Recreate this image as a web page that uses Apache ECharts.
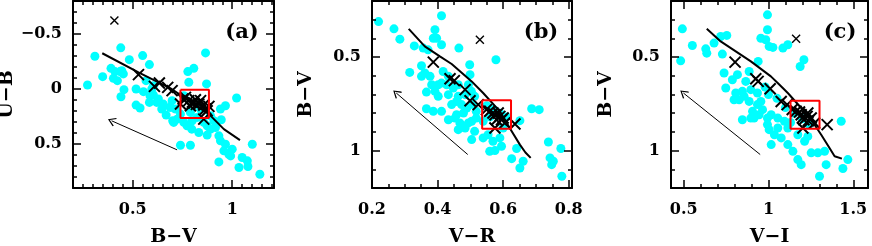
<!DOCTYPE html>
<html><head><meta charset="utf-8">
<script src="https://cdn.jsdelivr.net/npm/echarts@6/dist/echarts.min.js"></script>
<style>html,body{margin:0;padding:0;background:#fff}#c{width:872px;height:246px}</style>
</head><body><div id="c"></div>
<script>
// ---------- Panel (a): U-B vs B-V ----------
const cyanA = [[0.31,-0.298],[0.273,-0.036],[0.349,-0.112],[0.391,-0.188],[0.411,-0.158],[0.436,-0.158],[0.403,-0.097],[0.423,-0.076],[0.453,-0.137],[0.445,-0.167],[0.44,-0.374],[0.483,-0.267],[0.55,-0.304],[0.584,-0.222],[0.567,-0.076],[0.517,0.0],[0.554,0.024],[0.456,0.006],[0.441,0.07],[0.517,0.146],[0.537,0.173],[0.584,0.122],[0.604,0.055],[0.629,0.091],[0.646,0.182],[0.668,0.237],[0.688,0.167],[0.701,0.289],[0.596,0.0],[0.604,-0.03],[0.621,0.122],[0.654,0.137],[0.587,0.061],
[0.866,-0.328],[0.777,-0.158],[0.807,-0.188],[0.782,-0.061],[0.871,-0.046],[1.022,0.082],[0.941,0.182],[0.966,0.152],[0.945,0.28],[0.715,0.182],[0.723,0.274],[0.706,0.304],[0.773,0.334],[0.797,0.365],[0.832,0.395],[0.874,0.419],[0.891,0.365],[0.916,0.35],[0.933,0.426],[0.941,0.471],[0.966,0.502],[0.958,0.562],[0.983,0.593],[0.992,0.608],[0.74,0.511],[0.79,0.511],[1.101,0.502],[0.933,0.663],[1.05,0.623],[1.076,0.653],[1.034,0.714],[1.079,0.705],[1.139,0.775],[1.0,0.547],[0.698,0.106],[0.69,0.167],[0.757,0.061],[0.79,0.213],[0.824,0.258],[0.857,0.304],[0.891,0.243],[0.908,0.289],[0.841,0.182],[0.757,0.304],[0.74,0.228],[0.799,0.289],[0.874,0.334]];
const crossA = [[0.529,-0.131],[0.609,-0.024],[0.634,-0.055],[0.676,-0.015],[0.698,0.015],[0.753,0.091],[0.782,0.106],[0.807,0.128],[0.832,0.137],[0.857,0.146],[0.866,0.182],[0.857,0.274],[0.874,0.198],[0.74,0.137],[0.79,0.152],[0.765,0.076],[0.815,0.097],[0.841,0.106],[0.883,0.158],[0.8,0.12],[0.82,0.14]];
const loneA = [[0.408,-0.623]];
const curveA = [[0.347,-0.325],[0.529,-0.152],[0.69,-0.006],[0.883,0.228],[0.958,0.365],[1.039,0.465]];
const boxAx = [0.74,0.883], boxAy = [0.006,0.264];
const arrowA = [[0.723,0.553],[0.394,0.289]];

// ---------- Panel (b): B-V vs V-R ----------
const cyanB = [[0.22,0.31],[0.267,0.349],[0.285,0.404],[0.412,0.279],[0.392,0.354],[0.387,0.399],[0.397,0.399],[0.412,0.434],[0.329,0.44],[0.356,0.452],[0.371,0.461],[0.465,0.452],[0.351,0.546],[0.315,0.582],[0.361,0.585],[0.377,0.603],[0.351,0.603],[0.412,0.639],[0.428,0.648],[0.448,0.665],[0.463,0.648],[0.366,0.687],[0.392,0.683],[0.402,0.71],[0.433,0.701],[0.463,0.71],[0.484,0.701],[0.366,0.776],[0.387,0.79],[0.412,0.79],[0.433,0.835],[0.453,0.826],[0.468,0.852],[0.479,0.799],[0.494,0.852],[0.504,0.843],[0.463,0.888],[0.484,0.879],[0.504,0.941],[0.443,0.754],[0.458,0.737],[0.473,0.754],[0.489,0.772],[0.417,0.577],[0.433,0.603],[0.382,0.648],[0.402,0.648],[0.494,0.648],[0.499,0.594],[0.458,0.808],
[0.578,0.514],[0.498,0.541],[0.503,0.683],[0.513,0.71],[0.508,0.754],[0.518,0.79],[0.518,0.826],[0.539,0.843],[0.513,0.897],[0.539,0.932],[0.554,0.915],[0.569,0.95],[0.59,0.932],[0.6,0.879],[0.595,0.977],[0.559,1.004],[0.575,1.0],[0.641,0.989],[0.651,0.84],[0.626,1.043],[0.661,1.057],[0.651,1.093],[0.687,0.776],[0.71,0.781],[0.738,0.954],[0.776,0.989],[0.743,1.039],[0.753,1.057],[0.748,1.075],[0.779,1.137],[0.55,0.76],[0.57,0.78],[0.59,0.8],[0.61,0.82],[0.56,0.82]];
const crossB = [[0.387,0.527],[0.438,0.616],[0.451,0.626],[0.484,0.674],[0.499,0.733],[0.524,0.754],[0.559,0.79],[0.575,0.808],[0.59,0.817],[0.6,0.826],[0.58,0.835],[0.569,0.799],[0.585,0.799],[0.575,0.879],[0.605,0.852],[0.636,0.858],[0.549,0.781],[0.595,0.835]];
const loneB = [[0.529,0.407]];
const curveB = [[0.312,0.349],[0.361,0.443],[0.407,0.496],[0.443,0.537],[0.504,0.63],[0.539,0.692],[0.59,0.79],[0.62,0.879],[0.651,0.968],[0.668,1.01],[0.684,1.039]];
const boxBx = [0.536,0.624], boxBy = [0.731,0.883];
const arrowB = [[0.492,1.021],[0.274,0.692]];

// ---------- Panel (c): B-V vs V-I ----------
const cyanC = [[0.492,0.349],[0.482,0.52],[0.551,0.438],[0.63,0.456],[0.636,0.479],[0.679,0.425],[0.718,0.39],[0.754,0.384],[0.728,0.484],[0.738,0.585],[0.787,0.621],[0.748,0.665],[0.817,0.594],[0.866,0.63],[0.886,0.577],[0.939,0.523],[0.797,0.728],[0.827,0.728],[0.886,0.737],[0.906,0.79],[0.915,0.826],[0.965,0.781],[0.994,0.826],[0.846,0.835],[0.807,0.692],[0.846,0.683],[0.896,0.674],[0.935,0.692],[0.955,0.399],[0.984,0.407],[1.004,0.443],[0.994,0.354],[0.994,0.274],[0.994,0.861],[1.004,0.888],[0.856,0.71],[0.935,0.754],[0.955,0.737],[0.896,0.826],[0.945,0.808],
[1.026,0.448],[1.085,0.452],[1.114,0.434],[1.209,0.514],[1.187,0.55],[1.429,0.843],[1.016,0.808],[1.055,0.826],[1.094,0.843],[1.055,0.879],[1.114,0.879],[1.075,0.932],[1.114,0.968],[1.173,0.915],[1.213,0.95],[1.232,0.924],[1.144,1.004],[1.173,1.048],[1.193,1.075],[1.252,1.012],[1.291,1.012],[1.331,1.004],[1.34,1.075],[1.468,1.048],[1.439,1.096],[1.301,1.137],[1.016,0.968],[1.035,0.915],[1.1,0.77],[1.15,0.8],[1.2,0.83],[1.24,0.86],[1.13,0.85],[1.05,0.72],[1.0,0.7],[0.98,0.66]];
const crossC = [[0.803,0.527],[0.925,0.616],[0.939,0.63],[1.01,0.669],[1.075,0.737],[1.11,0.754],[1.163,0.79],[1.193,0.808],[1.228,0.817],[1.252,0.826],[1.209,0.835],[1.203,0.879],[1.272,0.852],[1.346,0.861],[1.232,0.799],[1.183,0.794],[1.14,0.78],[1.2,0.825],[1.235,0.84]];
const loneC = [[1.163,0.402]];
const curveC = [[0.636,0.349],[0.718,0.416],[0.778,0.452],[0.896,0.523],[1.014,0.603],[1.065,0.648],[1.114,0.692],[1.193,0.772],[1.252,0.835],[1.311,0.915],[1.36,0.986],[1.39,1.03],[1.433,1.043]];
const boxCx = [1.13,1.301], boxCy = [0.733,0.883];
const arrowC = [[0.951,1.021],[0.498,0.692]];

// ---------- axes: ranges, labelled (major) ticks, minor tick steps ----------
const xRangeA = [0.2, 1.21], yRangeA = [-0.8, 0.9];
const xRangeB = [0.2, 0.81], yRangeB = [0.2, 1.2];
const xRangeC = [0.425, 1.587], yRangeC = [0.2, 1.2];
const xMajorA = [0.5, 1], yMajorA = [-0.5, 0, 0.5];
const xMajorB = [0.2, 0.4, 0.6, 0.8], yMajorB = [0.5, 1];
const xMajorC = [0.5, 1, 1.5], yMajorC = [0.5, 1];
const xStepA = 0.05, yStepA = 0.1, xStepB = 0.05, yStepB = 0.1, xStepC = 0.1, yStepC = 0.1;
const names = ['(a)', '(b)', '(c)'];
const xNames = ['B\u2212V', 'V\u2212R', 'V\u2212I'];
const yNames = ['U\u2212B', 'B\u2212V', 'B\u2212V'];

const FONT = 'DejaVu Serif';
const grids = [
  {left: 73, top: 1, width: 201, height: 187, outerBoundsMode: 'none', containLabel: false},
  {left: 372, top: 1, width: 200, height: 187, outerBoundsMode: 'none', containLabel: false},
  {left: 671, top: 1, width: 197, height: 187, outerBoundsMode: 'none', containLabel: false}
];
function steps(r, s) {
  const out = [];
  for (let k = Math.ceil(r[0] / s - 1e-9); k * s <= r[1] + 1e-9; k++) out.push(+(k * s).toFixed(4));
  return out;
}
const fmt = v => (v < 0 ? '\u2212' : '') + Math.abs(v);
const xAxes = [], yAxes = [];
function addAxes(list, g, dim, pos, range, majors, step, labelled, name, nameGap, inverse) {
  const minors = steps(range, step);
  const base = {type: 'value', gridIndex: g, position: pos, min: range[0], max: range[1], inverse: !!inverse,
    splitLine: {show: false}, z: 5};
  const main = Object.assign({}, base, {
    axisLine: {show: true, onZero: false, lineStyle: {color: '#000', width: 2}},
    axisTick: {show: true, inside: true, length: 4, customValues: minors, lineStyle: {color: '#000', width: 1.5}},
    axisLabel: {show: labelled, customValues: majors, formatter: fmt, margin: dim === 'x' ? 14 : 11, color: '#000',
      fontFamily: FONT, fontSize: 16, fontWeight: 'bold'}
  });
  if (labelled) {
    Object.assign(main, {name: name, nameLocation: 'middle', nameGap: nameGap,
      nameTextStyle: {fontFamily: FONT, fontSize: 19, fontWeight: 'bold', color: '#000'}});
  }
  const maj = Object.assign({}, base, {
    axisLine: {show: false, onZero: false},
    axisTick: {show: true, inside: true, length: 8, customValues: majors, lineStyle: {color: '#000', width: 1.5}},
    axisLabel: {show: false, customValues: majors}
  });
  const idx = list.length;
  list.push(main, maj);
  return idx;
}
const panels = [
  {x: xRangeA, y: yRangeA, xm: xMajorA, ym: yMajorA, xs: xStepA, ys: yStepA, cyan: cyanA, cross: crossA, lone: loneA, curve: curveA, bx: boxAx, by: boxAy, arrow: arrowA, yGap: 52, lx: 242, ly: 33},
  {x: xRangeB, y: yRangeB, xm: xMajorB, ym: yMajorB, xs: xStepB, ys: yStepB, cyan: cyanB, cross: crossB, lone: loneB, curve: curveB, bx: boxBx, by: boxBy, arrow: arrowB, yGap: 56, lx: 541, ly: 33},
  {x: xRangeC, y: yRangeC, xm: xMajorC, ym: yMajorC, xs: xStepC, ys: yStepC, cyan: cyanC, cross: crossC, lone: loneC, curve: curveC, bx: boxCx, by: boxCy, arrow: arrowC, yGap: 55, lx: 840, ly: 33}
];
const series = [];
const graphic = [];
const chevron = 'path://M50,0 L100,88 L90,100 L50,26 L10,100 L0,88 Z';
const crossPath = 'path://M0,0 L10,10 M10,0 L0,10';
panels.forEach((p, g) => {
  const xi = addAxes(xAxes, g, 'x', 'bottom', p.x, p.xm, p.xs, true, xNames[g], 40, false);
  addAxes(xAxes, g, 'x', 'top', p.x, p.xm, p.xs, false);
  const yi = addAxes(yAxes, g, 'y', 'left', p.y, p.ym, p.ys, true, yNames[g], p.yGap, true);
  addAxes(yAxes, g, 'y', 'right', p.y, p.ym, p.ys, false, null, 0, true);
  const ax = {xAxisIndex: xi, yAxisIndex: yi};
  series.push(Object.assign({type: 'scatter', data: p.cyan, symbol: 'circle', symbolSize: 9,
    itemStyle: {color: '#00ffff', opacity: 1}, z: 2}, ax));
  series.push(Object.assign({type: 'line', data: p.curve, showSymbol: false, symbol: 'none',
    lineStyle: {color: '#000', width: 2}, z: 3,
    markLine: {silent: true, symbol: ['none', chevron], symbolSize: [9, 8], label: {show: false},
      lineStyle: {color: '#000', width: 1, type: 'solid'},
      data: [[{coord: p.arrow[0]}, {coord: p.arrow[1]}]]}}, ax));
  series.push(Object.assign({type: 'scatter', data: p.cross, symbol: crossPath, symbolSize: 11,
    itemStyle: {color: 'rgba(0,0,0,0)', borderColor: '#000', borderWidth: 2, opacity: 1}, z: 4}, ax));
  series.push(Object.assign({type: 'scatter', data: p.lone, symbol: crossPath, symbolSize: 8,
    itemStyle: {color: 'rgba(0,0,0,0)', borderColor: '#000', borderWidth: 1.4, opacity: 1}, z: 4}, ax));
  const box = [[p.bx[0], p.by[0]], [p.bx[1], p.by[0]], [p.bx[1], p.by[1]], [p.bx[0], p.by[1]], [p.bx[0], p.by[0]]];
  series.push(Object.assign({type: 'line', data: box, showSymbol: false, symbol: 'none',
    lineStyle: {color: '#ff0000', width: 2}, z: 5}, ax));
  graphic.push({type: 'text', x: p.lx, y: p.ly, z: 10,
    style: {text: names[g], font: 'bold 21px "' + FONT + '"', fill: '#000', textAlign: 'center', textVerticalAlign: 'middle'}});
});
const chart = echarts.init(document.getElementById('c'), null, {renderer: 'canvas'});
chart.setOption({animation: false, grid: grids, xAxis: xAxes, yAxis: yAxes, series: series, graphic: graphic});
</script></body></html>
